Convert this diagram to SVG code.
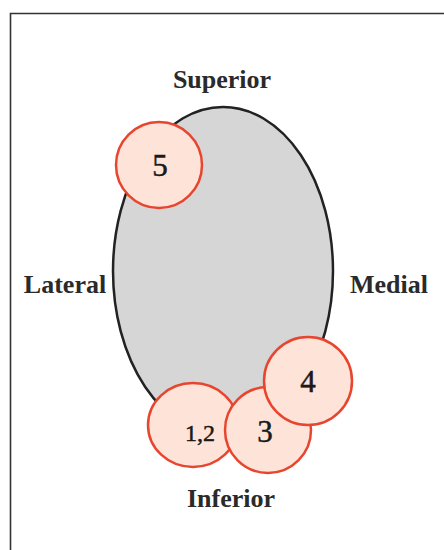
<svg xmlns="http://www.w3.org/2000/svg" width="444" height="550" viewBox="0 0 444 550">
<style>
.lbl{font-family:"Liberation Serif","Times New Roman",serif;font-weight:bold;font-size:26px;fill:#2a2a2a;text-anchor:middle}
.num{font-family:"Liberation Serif","Times New Roman",serif;font-size:31px;fill:#1a1a1a;stroke:#1a1a1a;stroke-width:0.5;text-anchor:middle}
.site{fill:#fde3d8;stroke:#e8452f;stroke-width:2.5}
</style>
<rect width="444" height="550" fill="#fff"/>
<path d="M10.5,550 V13.5 H444" fill="none" stroke="#333" stroke-width="1.6"/>
<g id="body">
<ellipse cx="223" cy="271" rx="110" ry="164" fill="#d6d6d6" stroke="#222" stroke-width="2.5"/>
</g>
<g id="label-superior"><text class="lbl" x="222" y="88">Superior</text></g>
<g id="label-lateral"><text class="lbl" x="65" y="293">Lateral</text></g>
<g id="label-medial"><text class="lbl" x="389" y="293">Medial</text></g>
<g id="label-inferior"><text class="lbl" x="231" y="507">Inferior</text></g>
<g id="site5"><circle class="site" cx="159" cy="165" r="43"/><text class="num" x="160" y="176">5</text></g>
<g id="site12"><ellipse class="site" cx="193" cy="425" rx="45" ry="42"/><text class="num" x="200" y="441" style="font-size:24px">1,2</text></g>
<g id="site3"><circle class="site" cx="268" cy="430" r="43"/><text class="num" x="265" y="442">3</text></g>
<g id="site4"><circle class="site" cx="308" cy="381" r="44"/><text class="num" x="308" y="392">4</text></g>
<g id="connectors"></g>
</svg>
